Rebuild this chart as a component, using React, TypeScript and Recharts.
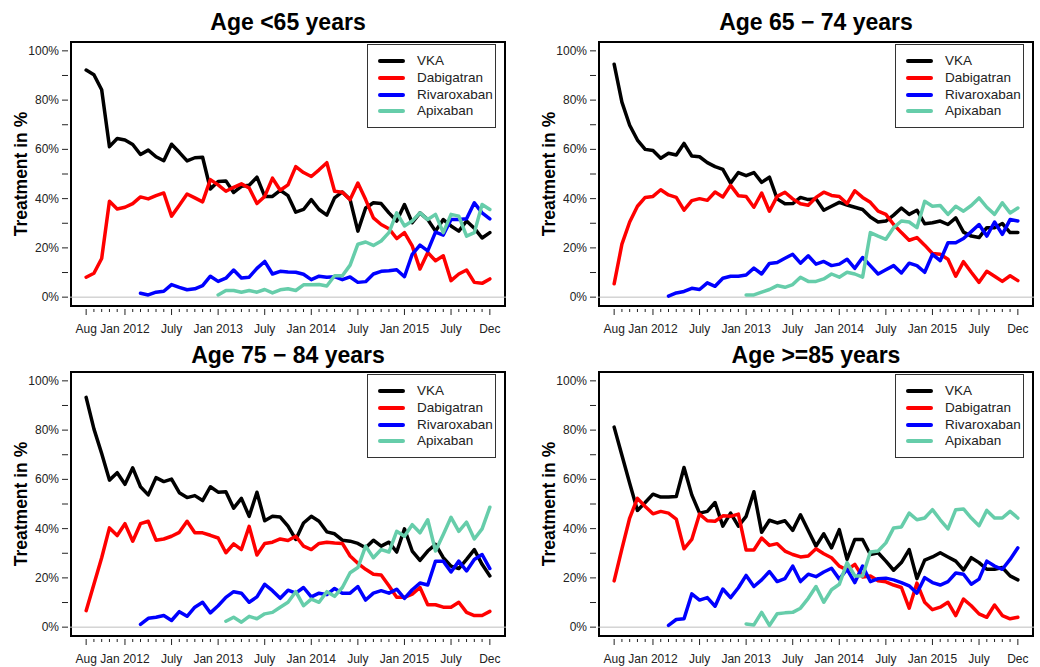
import React from "react";
import { LineChart, Line, XAxis, YAxis, ReferenceLine, Legend } from "recharts";

const FONT = "'Liberation Sans', Arial, Helvetica, sans-serif";

// month index 0 = Aug 2011 ... 52 = Dec 2015
const MONTHS = Array.from({ length: 53 }, (_, i) => i);
const X_LABELS: Record<number, string> = {
  0: "Aug", 5: "Jan 2012", 11: "July", 17: "Jan 2013", 23: "July",
  29: "Jan 2014", 35: "July", 41: "Jan 2015", 47: "July", 52: "Dec",
};
const Y_TICKS = [0, 10, 20, 30, 40, 50, 60, 70, 80, 90, 100];
const Y_LABELS: Record<number, string> = { 0: "0%", 20: "20%", 40: "40%", 60: "60%", 80: "80%", 100: "100%" };

const X_MIN = -2.08;
const X_MAX = 54.08;
const Y_MIN = -4;
const Y_MAX = 104;
const RIV_START = 7;

// Age <65
const lt65Vka = [92.2, 90.3, 84.2, 61.1, 64.4, 63.8, 62, 57.9, 59.7, 57, 55.4, 62.1, 58.8, 55.3, 56.6, 56.8, 43.9, 47, 47.2, 42.5, 45, 45.4, 48.7, 40.9, 40.9, 43.4, 41.2, 34.5, 35.6, 39.6, 35.6, 33.3, 40.3, 42.7, 39.6, 26.8, 36.2, 38.3, 38, 34.2, 30.9, 37.6, 30.2, 34.2, 31.5, 26.8, 31.5, 28.9, 26.8, 30.9, 28, 24, 26.2];
const lt65Dab = [8.1, 9.7, 15.7, 38.9, 35.8, 36.5, 38, 40.7, 39.9, 41.2, 42.3, 32.9, 37.3, 41.9, 40.3, 38.7, 47.7, 45.6, 43, 44.6, 46, 44.3, 38, 40.9, 48.3, 43.4, 45.6, 53, 50.6, 49, 51.7, 54.6, 43, 42.6, 39.6, 46.3, 39.6, 32.2, 29.5, 27.8, 23.8, 26.2, 20.8, 11.4, 18.1, 14.8, 16.8, 6.7, 9.4, 11, 6, 5.6, 7.4];
const lt65Riv = [1.6, 0.9, 2, 2.4, 5.1, 4, 3, 3.4, 4.7, 8.5, 6.4, 7.7, 11, 7.8, 8.1, 11.7, 14.5, 9.4, 10.5, 10.2, 10.1, 9.3, 7.1, 8.5, 8.1, 8.3, 7.1, 8.2, 6, 6.3, 9.4, 10.5, 10.7, 11.1, 8.3, 17.4, 21.1, 18.8, 26.4, 25.2, 31.5, 31.5, 31.8, 38.3, 34.2, 31.8];
const lt65Api = [0.9, 2.7, 2.7, 2, 2.7, 2, 3.1, 1.7, 3, 3.4, 2.7, 5, 5, 5.1, 4.5, 8.7, 8.7, 13, 21.5, 22.4, 21, 22.8, 26.2, 34.2, 28.9, 30.9, 34.2, 31.5, 33.6, 26.2, 33.6, 32.9, 24.8, 26.2, 37.6, 35.6];

// Age 65-74
const a65Vka = [94.6, 79.2, 69.8, 63.8, 60, 59.5, 56.4, 58.4, 57.7, 62.4, 57.3, 57, 54.6, 53, 51.9, 46.3, 50.6, 49.3, 50.6, 46.6, 48.7, 39.9, 37.9, 38, 40.5, 39.6, 39.9, 35.3, 36.9, 38.5, 37.4, 36.5, 35.6, 32.5, 30.5, 30.9, 33.3, 36.2, 33.6, 35.3, 29.8, 30.2, 30.9, 29.5, 32.2, 26.4, 24.8, 24.2, 28.2, 28.2, 29.9, 26.2, 26.2];
const a65Dab = [5.4, 21.5, 30.5, 36.9, 40.5, 40.9, 43.6, 41.5, 40.5, 35.3, 39.2, 40, 39.3, 42.7, 40.7, 45.4, 41.2, 40.9, 36.5, 42.3, 34.9, 40.9, 42.6, 39.9, 37.9, 37.3, 40.5, 42.6, 41.3, 40.9, 38, 43.2, 40.5, 38.5, 34.9, 33.6, 29.5, 26.2, 23.1, 24.2, 21.1, 17.7, 17.4, 15.4, 8.5, 14.4, 10.1, 6, 10.5, 8.5, 6.4, 8.7, 6.7];
const a65Riv = [0.4, 1.7, 2.3, 3.6, 3.1, 5.8, 4.4, 7.7, 8.5, 8.5, 9, 11.8, 9.4, 13.7, 14.1, 15.8, 17.4, 13.8, 16.8, 13.4, 14.5, 12.8, 13.4, 15.4, 11.7, 16.1, 12.8, 9.4, 11.1, 12.8, 9.8, 13.8, 12.8, 10.1, 17.4, 14.8, 22.1, 22.1, 23.8, 26.6, 29.5, 24.8, 30.5, 25.5, 31.5, 30.9];
const a65Api = [0.9, 0.9, 2, 3.1, 4.7, 4, 5.1, 8.1, 6.4, 6.4, 7.4, 9.4, 8.1, 10.1, 9.4, 8.1, 26.2, 24.8, 23.5, 28.2, 30.9, 30.5, 28.2, 38.9, 36.9, 37.2, 33.6, 36.9, 34.9, 37.2, 40.3, 36.5, 33.6, 38.3, 34.2, 36.2];

// Age 75-84
const a75Vka = [93.3, 80.5, 70.5, 59.7, 62.7, 58, 64.7, 57, 53.7, 60.7, 59.1, 60.1, 54.6, 52.6, 53.4, 51.4, 57, 54.8, 55, 48.3, 52.3, 45, 54.8, 43.2, 45, 44.7, 41, 35.6, 42.3, 45, 43, 38.7, 37.9, 35.3, 34.9, 34, 32.2, 35.3, 32.9, 34.5, 30.5, 39.9, 30.9, 27.1, 30.9, 33.6, 28.2, 24.8, 23.8, 27.5, 31.5, 25.5, 20.8];
const a75Dab = [6.7, 17.4, 28.2, 40.3, 37.2, 42, 34.9, 42, 43, 35.3, 35.8, 36.9, 38.5, 43, 38.3, 38.3, 37.3, 36.2, 30.2, 33.8, 31.5, 40.9, 29.3, 34, 34.5, 35.8, 35.2, 36.9, 32.9, 31.5, 34, 34.5, 34.2, 34, 28.9, 25.9, 23.5, 21.5, 21.2, 16.8, 12.1, 12.1, 13.4, 16.1, 9.1, 9.1, 8.1, 8.1, 10.1, 6, 4.7, 4.7, 6.4];
const a75Riv = [1.1, 3.6, 4, 4.7, 2.7, 6.3, 4.4, 8.1, 10.1, 5.8, 8.7, 12.1, 14.4, 13.8, 10.1, 12.3, 17.4, 14.8, 11.7, 15, 13.8, 16.1, 12.3, 13.8, 13.2, 15.7, 13.8, 13.8, 16.5, 11, 13.8, 14.8, 13.8, 15.4, 11.7, 15.2, 17.9, 17.1, 26.8, 26.8, 22.4, 26.8, 22.8, 27.5, 29.5, 23.8];
const a75Api = [2.4, 4, 2, 4.4, 3.4, 5.4, 6, 8.1, 10.1, 14.4, 8.7, 11.4, 10.1, 14.4, 12.5, 16.1, 22.1, 24.2, 32.9, 28.2, 31.5, 30.5, 38.9, 36.9, 41.6, 38.3, 43.6, 30.9, 37.6, 44.6, 38.9, 42.6, 35.8, 39.9, 48.7];

// Age >=85
const a85Vka = [81.2, 69.8, 58.4, 47.4, 50.6, 54, 52.8, 52.8, 53, 64.8, 53.7, 46.3, 47, 50.6, 41, 46.3, 41, 45, 55, 38.5, 43.4, 42.3, 43.2, 39.3, 45.6, 39.2, 32.9, 37.9, 32.2, 39.6, 27.5, 35.6, 35.6, 29.5, 30.2, 26.8, 23.1, 26.2, 31.5, 19.7, 27.2, 28.5, 30.2, 28.5, 26.8, 23.2, 28.2, 26.2, 23.5, 23.5, 24.2, 20.8, 19.2];
const a85Dab = [18.8, 31.8, 44.3, 52.3, 49, 46, 47, 46.3, 43.9, 31.8, 35.6, 45.9, 43.2, 43, 45.2, 45, 45.9, 31.3, 31.3, 36.2, 33.2, 33.9, 30.9, 29.5, 28.5, 28.9, 31.8, 29.8, 28.2, 24.8, 23.2, 25.5, 20.4, 20.8, 18.8, 18.4, 17.1, 16.1, 7.7, 17.9, 10.1, 7.1, 8.1, 10.1, 4.7, 11.4, 8.7, 5.4, 4, 9, 4.7, 3.4, 4];
const a85Riv = [0.7, 3.1, 3.4, 13.5, 11, 12, 8.5, 15.5, 12, 16, 21, 16.5, 19.2, 22.6, 18.5, 19.7, 24.8, 18.5, 21.5, 20.5, 22.4, 23.9, 19.5, 23.5, 18.1, 24.8, 18.5, 19.7, 19.9, 19.2, 18.1, 16.8, 13.8, 20.1, 18.1, 17.1, 18.5, 22, 21.5, 17.4, 19.5, 26.8, 24.8, 23.5, 27.5, 32.2];
const a85Api = [1.3, 0.9, 6, 0.7, 5.4, 5.8, 6, 7.7, 11.7, 16.5, 10.1, 15.2, 17.4, 26.2, 20.8, 20.8, 30.5, 30.9, 34.2, 40.3, 40.7, 46.3, 43.6, 44.3, 47.7, 43.6, 39.9, 47.7, 48, 44.3, 41.2, 47.4, 44.3, 44.3, 47, 44.3];

const SERIES = [
  { key: "vka", name: "VKA", color: "#000000" },
  { key: "dab", name: "Dabigatran", color: "#FF0000" },
  { key: "riv", name: "Rivaroxaban", color: "#0000FF" },
  { key: "api", name: "Apixaban", color: "#66CDAA" },
];

function buildRows(vka: number[], dab: number[], riv: number[], api: number[], apiStart: number) {
  return MONTHS.map((m) => ({
    m,
    vka: vka[m],
    dab: dab[m],
    riv: m >= RIV_START ? riv[m - RIV_START] : null,
    api: m >= apiStart ? api[m - apiStart] : null,
  }));
}

const PANELS = [
  { title: "Age <65 years", rows: buildRows(lt65Vka, lt65Dab, lt65Riv, lt65Api, 17), col: 0, row: 0 },
  { title: "Age 65 \u2212 74 years", rows: buildRows(a65Vka, a65Dab, a65Riv, a65Api, 17), col: 1, row: 0 },
  { title: "Age 75 \u2212 84 years", rows: buildRows(a75Vka, a75Dab, a75Riv, a75Api, 18), col: 0, row: 1 },
  { title: "Age >=85 years", rows: buildRows(a85Vka, a85Dab, a85Riv, a85Api, 17), col: 1, row: 1 },
];

const renderXTick = (props: any) => {
  const { x, y, payload } = props;
  const label = X_LABELS[payload.value];
  return (
    <g key={`xt-${payload.value}`}>
      <line x1={x} x2={x} y1={y + 2} y2={y + (label ? 8 : 5)} stroke="#222" strokeWidth={1} />
      {label && (
        <text x={x} y={y + 26} textAnchor="middle" fontSize={12} fill="#222" fontFamily={FONT}>
          {label}
        </text>
      )}
    </g>
  );
};

const renderYTick = (props: any) => {
  const { x, y, payload } = props;
  const label = Y_LABELS[payload.value];
  return (
    <g key={`yt-${payload.value}`}>
      <line x1={x - 8} x2={x - 2} y1={y} y2={y} stroke="#222" strokeWidth={1} />
      {label && (
        <text x={x - 11} y={y + 4} textAnchor="end" fontSize={12} fill="#222" fontFamily={FONT}>
          {label}
        </text>
      )}
    </g>
  );
};

const LegendBox = () => (
  <div
    style={{
      border: "1px solid #333",
      background: "#fff",
      padding: "8px 0 7px 0",
      width: 129,
      boxSizing: "border-box",
      fontFamily: FONT,
    }}
  >
    {SERIES.map((s) => (
      <div key={s.key} style={{ display: "flex", alignItems: "center", height: 16.7 }}>
        <div style={{ marginLeft: 10, width: 27, height: 4, borderRadius: 2, background: s.color }} />
        <span style={{ marginLeft: 12, fontSize: 13.5, color: "#222", lineHeight: "16px" }}>{s.name}</span>
      </div>
    ))}
  </div>
);

const Panel = ({ title, rows, col, row }: any) => {
  const left = col * 528;
  const top = row * 330;
  const width = col === 0 ? 520 : 512;
  const height = 340;
  return (
    <div style={{ position: "absolute", left, top, width, height }}>
      <div
        style={{
          position: "absolute",
          left: 70,
          top: 10 + row * 3,
          width: 436,
          textAlign: "center",
          fontFamily: FONT,
          fontWeight: "bold",
          fontSize: 23,
          lineHeight: "24px",
          color: "#000",
        }}
      >
        {title}
      </div>
      <div
        style={{
          position: "absolute",
          left: 21 - 100,
          top: 174 - 10,
          width: 200,
          height: 20,
          lineHeight: "20px",
          textAlign: "center",
          transform: "rotate(-90deg)",
          fontFamily: FONT,
          fontWeight: "bold",
          fontSize: 17.5,
          color: "#000",
        }}
      >
        Treatment in %
      </div>
      <div
        style={{
          position: "absolute",
          left: 70,
          top: 41,
          width: 436,
          height: 266,
          outline: "2px solid #000000",
          outlineOffset: -2,
        }}
      />
      <div style={{ position: "absolute", left: 0, top: 0 }}>
        <LineChart
          width={width}
          height={height}
          data={rows}
          margin={{ top: 41, left: 10, right: width - 506, bottom: 3 }}
        >
          <XAxis
            dataKey="m"
            type="number"
            domain={[X_MIN, X_MAX]}
            ticks={MONTHS}
            interval={0}
            allowDataOverflow
            height={30}
            tickSize={0}
            tickMargin={0}
            tickLine={false}
            axisLine={false}
            tick={renderXTick}
          />
          <YAxis
            type="number"
            domain={[Y_MIN, Y_MAX]}
            ticks={Y_TICKS}
            interval={0}
            allowDataOverflow
            width={60}
            tickSize={0}
            tickMargin={0}
            tickLine={false}
            axisLine={false}
            tick={renderYTick}
          />
          <ReferenceLine y={0} stroke="#bebebe" strokeWidth={1} />
          {SERIES.map((s) => (
            <Line
              key={s.key}
              dataKey={s.key}
              name={s.name}
              stroke={s.color}
              strokeWidth={3.5}
              strokeLinejoin="round"
              strokeLinecap="round"
              dot={false}
              activeDot={false}
              isAnimationActive={false}
              connectNulls={false}
            />
          ))}
          <Legend
            layout="vertical"
            align="center"
            verticalAlign="middle"
            wrapperStyle={{ left: 367, top: 44, width: 129 }}
            content={() => <LegendBox />}
          />
        </LineChart>
      </div>
    </div>
  );
};

export default function App() {
  return (
    <div style={{ position: "absolute", left: 0, top: 0, width: 1040, height: 667, background: "#fff" }}>
      {PANELS.map((p) => (
        <Panel key={p.title} {...p} />
      ))}
    </div>
  );
}
